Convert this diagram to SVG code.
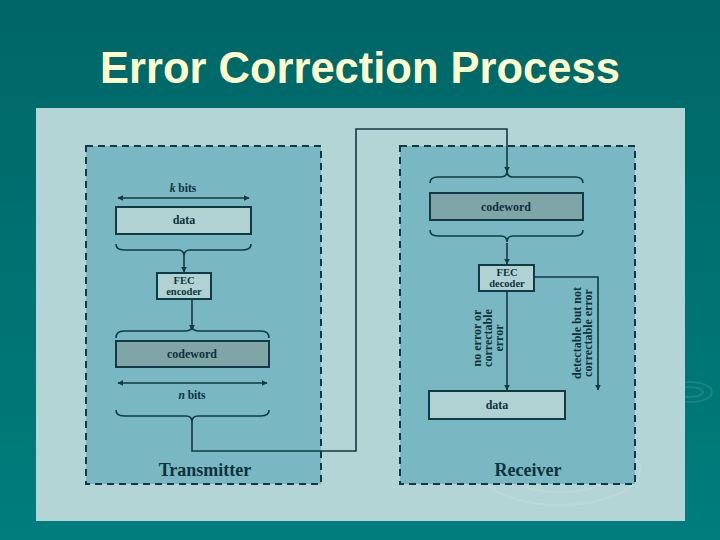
<svg xmlns="http://www.w3.org/2000/svg" width="720" height="540" viewBox="0 0 720 540">
<defs>
<linearGradient id="bg" x1="0" y1="0" x2="0" y2="1">
<stop offset="0" stop-color="#006666"/>
<stop offset="1" stop-color="#007d7d"/>
</linearGradient>
<marker id="ah" viewBox="0 0 10 10" refX="9" refY="5" markerWidth="6" markerHeight="6" orient="auto-start-reverse" markerUnits="userSpaceOnUse">
<path d="M0,0 L10,5 L0,10 Z" fill="#123a42"/>
</marker>
<style>
.zone{fill:#79b7c3;stroke:#123a42;stroke-width:2;stroke-dasharray:7,5}
.box{stroke:#123a42;stroke-width:2}
.light{fill:#b0d2d3}
.grey{fill:#7fa5a6}
.ln{fill:none;stroke:#123a42;stroke-width:1.6}
.t{font-family:"Liberation Serif","Times New Roman",serif;font-weight:bold;fill:#0f323a;text-anchor:middle}
.ring{fill:none;stroke:#ffffff;stroke-opacity:0.1;stroke-width:2}
</style>
</defs>
<rect width="720" height="540" fill="url(#bg)"/>
<g id="ripples-bg">
<ellipse class="ring" cx="690" cy="392" rx="22" ry="10"/>
<ellipse class="ring" cx="690" cy="392" rx="13" ry="5"/>
</g>
<text x="360" y="83" font-family="'Liberation Sans',Arial,sans-serif" font-size="43.5" font-weight="bold" fill="#ffffcc" text-anchor="middle">Error Correction Process</text>
<rect x="36" y="108" width="649" height="413" fill="#b4d5d5"/>
<g id="ripples">
<ellipse class="ring" cx="560" cy="470" rx="80" ry="35"/>
<ellipse class="ring" cx="560" cy="470" rx="55" ry="22"/>
</g>
<g id="transmitter">
<rect class="zone" x="86" y="146" width="235" height="338"/>
<text class="t" x="205" y="476" font-size="18">Transmitter</text>
</g>
<g id="receiver">
<rect class="zone" x="400" y="146" width="235" height="338"/>
<text class="t" x="528" y="476" font-size="18">Receiver</text>
</g>
<g id="k-bits">
<text class="t" x="183" y="192" font-size="11.5"><tspan font-style="italic">k</tspan> bits</text>
<line class="ln" x1="118" y1="198" x2="249" y2="198" marker-start="url(#ah)" marker-end="url(#ah)"/>
</g>
<g id="tx-data">
<rect class="box light" x="116" y="207" width="135" height="27"/>
<text class="t" x="184" y="224" font-size="12">data</text>
</g>
<g id="fec-encoder">
<rect class="box light" x="157" y="273" width="54" height="26"/>
<text class="t" x="184" y="284" font-size="10.5">FEC</text>
<text class="t" x="184" y="295" font-size="10.5">encoder</text>
</g>
<g id="tx-codeword">
<rect class="box grey" x="116" y="341" width="153" height="26"/>
<text class="t" x="192" y="358" font-size="12">codeword</text>
</g>
<g id="n-bits">
<line class="ln" x1="118" y1="383" x2="267" y2="383" marker-start="url(#ah)" marker-end="url(#ah)"/>
<text class="t" x="192" y="399" font-size="11.5"><tspan font-style="italic">n</tspan> bits</text>
</g>
<g id="rx-codeword">
<rect class="box grey" x="430" y="193" width="153" height="27"/>
<text class="t" x="506" y="211" font-size="12">codeword</text>
</g>
<g id="fec-decoder">
<rect class="box light" x="479" y="265" width="55" height="26"/>
<text class="t" x="507" y="276" font-size="10.5">FEC</text>
<text class="t" x="507" y="287" font-size="10.5">decoder</text>
</g>
<g id="rx-data">
<rect class="box light" x="429" y="391" width="136" height="28"/>
<text class="t" x="497" y="409" font-size="12">data</text>
</g>
<g id="labels">
<text class="t" font-size="12" transform="translate(481,338) rotate(-90)">no error or</text>
<text class="t" font-size="12" transform="translate(492,338) rotate(-90)">correctable</text>
<text class="t" font-size="12" transform="translate(503,338) rotate(-90)">error</text>
<text class="t" font-size="12" transform="translate(581,333) rotate(-90)">detectable but not</text>
<text class="t" font-size="12" transform="translate(592,333) rotate(-90)">correctable error</text>
</g>
<g id="connectors">
<path class="ln" d="M116,244 Q116,250 124,250 L178,250 Q184,250 184,256 Q184,250 190,250 L243,250 Q251,250 251,244"/>
<line class="ln" x1="184" y1="256" x2="184" y2="272" marker-end="url(#ah)"/>
<line class="ln" x1="192" y1="300" x2="192" y2="330" marker-end="url(#ah)"/>
<path class="ln" d="M116,338 Q116,331 124,331 L186,331 Q192,331 192,325 Q192,331 198,331 L261,331 Q269,331 269,338"/>
<path class="ln" d="M116,410 Q116,416 124,416 L186,416 Q192,416 192,422 Q192,416 198,416 L261,416 Q269,416 269,410"/>
<path class="ln" d="M192,422 L192,451 L356,451 L356,129 L507,129 L507,172" marker-end="url(#ah)"/>
<path class="ln" d="M430,183 Q430,177 438,177 L501,177 Q507,177 507,171 Q507,177 513,177 L575,177 Q583,177 583,183"/>
<path class="ln" d="M430,230 Q430,236 438,236 L501,236 Q507,236 507,242 Q507,236 513,236 L575,236 Q583,236 583,230"/>
<line class="ln" x1="507" y1="243" x2="507" y2="264" marker-end="url(#ah)"/>
<line class="ln" x1="507" y1="292" x2="507" y2="390" marker-end="url(#ah)"/>
<path class="ln" d="M535,277 L598,277 L598,390" marker-end="url(#ah)"/>
</g>
</svg>
